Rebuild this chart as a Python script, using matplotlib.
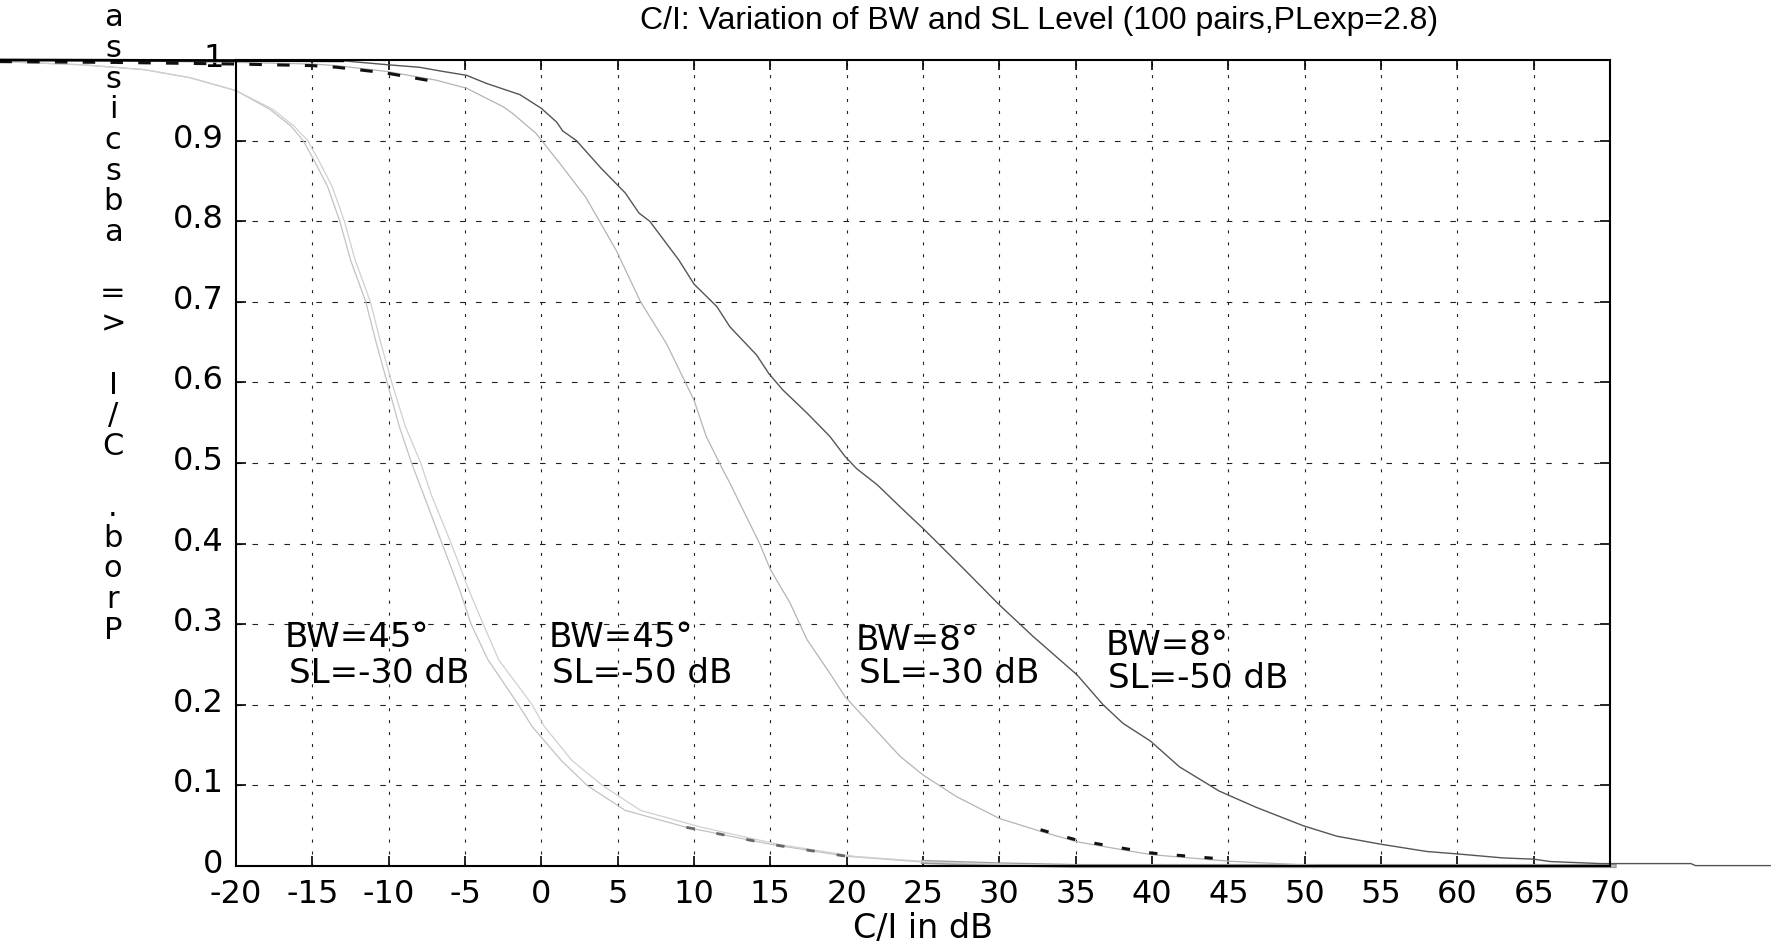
import matplotlib
matplotlib.use('Agg')
import matplotlib.pyplot as plt
import matplotlib.transforms as mtransforms
import numpy as np

# BW=45 deg pair (two almost identical curves)
x_a = [-35.5, -30, -26, -23, -20, -17.8, -16.4, -15.6, -14.9, -14.0, -13.2, -12.5, -11.5,
       -10.8, -10.1, -9.3, -8.5, -7.7, -6.5, -5.3, -4.6, -3.5, -1.5, -0.6, 1.3, 3.0, 5.5,
       9.5, 15, 20, 25, 30, 35, 70.3]
x_b = [-35.5, -30, -26, -23, -20, -17.6, -16.2, -15.3, -14.6, -13.7, -12.9, -12.2, -11.2,
       -10.5, -9.8, -8.9, -7.9, -7.2, -5.9, -4.7, -3.8, -2.8, -0.6, 0.2, 2.0, 4.0, 6.5,
       10.5, 15.5, 20.5, 25.5, 31, 36, 70.3]
y_ab = [0.998, 0.994, 0.988, 0.978, 0.962, 0.939, 0.918, 0.90, 0.876, 0.843, 0.80, 0.752, 0.70,
        0.648, 0.60, 0.545, 0.50, 0.46, 0.40, 0.34, 0.30, 0.256, 0.20, 0.173, 0.131, 0.10, 0.069,
        0.048, 0.027, 0.012, 0.005, 0.002, 0.0, 0.0]

# middle light curve
x_m = [-35.5, -28, -20, -15, -13.4, -10.2, -6.9, -4.9, -2.5, -1.9, -0.35, 1.2, 2.9, 4.9, 6.5,
       8.2, 10.0, 10.8, 11.8, 12.35, 14.3, 15.0, 16.3, 17.4, 18.9, 19.9, 21.7, 23.5, 25.0, 27.2,
       30.0, 32.7, 35.1, 38.1, 40, 45, 51.5, 70.3]
y_m = [1.0, 0.999, 0.997, 0.995, 0.993, 0.986, 0.975, 0.965, 0.942, 0.934, 0.909, 0.872, 0.83,
       0.764, 0.70, 0.648, 0.578, 0.533, 0.495, 0.475, 0.40, 0.368, 0.326, 0.281, 0.239, 0.21,
       0.173, 0.136, 0.113, 0.086, 0.059, 0.043, 0.03, 0.02, 0.014, 0.006, 0.0, 0.0]

# dark curve
x_d = [-35.5, -13, -10, -8, -6.5, -4.9, -3.6, -1.4, 0, 1.0, 1.4, 2.3, 3.9, 5.5, 6.4, 7.1, 9.0,
       10.0, 11.5, 12.35, 14.1, 14.9, 15.8, 17.4, 18.9, 19.9, 20.65, 22.0, 23.7, 25.1, 27.6, 30.0,
       32.2, 35.1, 36.8, 38.1, 39.9, 41.8, 44.4, 46.8, 49.9, 52.1, 55.0, 58.0, 60.0, 63.0, 65.0,
       66.1, 69.4, 75.3, 75.6, 80.5]
y_d = [1.0, 0.999, 0.994, 0.991, 0.986, 0.981, 0.971, 0.957, 0.94, 0.923, 0.912, 0.90, 0.866,
       0.835, 0.81, 0.80, 0.752, 0.722, 0.694, 0.669, 0.634, 0.611, 0.591, 0.562, 0.533, 0.508,
       0.493, 0.473, 0.442, 0.417, 0.37, 0.324, 0.285, 0.237, 0.2, 0.177, 0.155, 0.123, 0.093,
       0.073, 0.050, 0.037, 0.027, 0.018, 0.015, 0.010, 0.0085, 0.0055, 0.003, 0.003, 0.0005, 0.0005]

xticks = list(range(-20, 71, 5))
yticks = [0, 0.1, 0.2, 0.3, 0.4, 0.5, 0.6, 0.7, 0.8, 0.9, 1]
ytick_labels = ['0', '0.1', '0.2', '0.3', '0.4', '0.5', '0.6', '0.7', '0.8', '0.9', '1']

bw_labels = ['BW=45°', 'BW=45°', 'BW=8°', 'BW=8°']
sl_labels = ['SL=-30 dB', 'SL=-50 dB', 'SL=-30 dB', 'SL=-50 dB']

ylabel_chars = ['a', 's', 's', 'i', 'c', 's', 'b', 'a', '', '=', '>', '', 'I', '/', 'C', '',
                '.', 'b', 'o', 'r', 'P']

plt.rcParams['lines.scale_dashes'] = False
plt.rcParams['axes.unicode_minus'] = False

fig = plt.figure(figsize=(17.75, 9.47), dpi=100)
ax = fig.add_axes([0.13296, 0.08553, 0.77408, 0.85111])
ax.set_xlim(-20, 70)
ax.set_ylim(0, 1)

# grid (matlab style dotted)
for xv in xticks[1:-1]:
    ax.plot([xv, xv], [0, 1], color='#222222', lw=0.8, dashes=(2.2, 6.4), zorder=1)
for yv in yticks[1:-1]:
    ax.plot([-20, 70], [yv, yv], color='#222222', lw=0.8, dashes=(4, 7.5), zorder=1)

ax.plot(x_a, y_ab, color='#c2c2c2', lw=0.9, clip_on=False, zorder=3)
ax.plot(x_b, y_ab, color='#d0d0d0', lw=0.9, clip_on=False, zorder=3)
ax.plot(x_m, y_m, color='#b4b4b4', lw=0.9, clip_on=False, zorder=3)
ax.plot(x_d, y_d, color='#555555', lw=1.0, clip_on=False, zorder=4)

# rendering artefacts on the nearly flat parts
xm = np.array(x_m)
ym = np.array(y_m)
top = ym > 0.97
ax.plot(xm[top], ym[top] - 0.002, color='#111111', lw=2.2, dashes=(9, 11), clip_on=False, zorder=5)
low = (ym < 0.045) & (ym > 0.0)
ax.plot(xm[low], ym[low] + 0.002, color='#111111', lw=2.2, dashes=(6, 14), clip_on=False, zorder=5)
xa = np.array(x_a)
ya = np.array(y_ab)
flat = ya <= 0.006
ax.plot(xa[flat], ya[flat], color='#999999', lw=3.0, clip_on=False, zorder=2)
tail = (ya < 0.05) & (ya > 0.006)
ax.plot(xa[tail], ya[tail], color='#666666', lw=2.0, dashes=(6, 16), clip_on=False, zorder=5)
xd = np.array(x_d)
yd = np.array(y_d)
flat_d = yd >= 0.999
ax.plot(xd[flat_d], yd[flat_d], color='black', lw=2.0, clip_on=False, zorder=5)

ax.set_xticks(xticks)
ax.set_yticks(yticks)
ax.set_yticklabels(ytick_labels)
ax.tick_params(direction='in', length=7, width=1.2, top=True, right=True,
               labelsize=23)
ax.tick_params(axis='x', pad=9)
ax.tick_params(axis='y', pad=9)
shift = mtransforms.ScaledTranslation(0, 5 / 100, fig.dpi_scale_trans)
for lab in ax.get_yticklabels():
    lab.set_transform(lab.get_transform() + shift)
for s in ax.spines.values():
    s.set_linewidth(1.5)
    s.set_zorder(6)

lx1 = [-16.8, 0.45, 20.6, 36.97]
lx2 = [-16.55, 0.69, 20.8, 37.1]
ly1 = [0.284, 0.284, 0.280, 0.274]
ly2 = [0.239, 0.239, 0.239, 0.233]
for i in range(4):
    ax.text(lx1[i], ly1[i], bw_labels[i], fontsize=24.5, ha='left', va='center', zorder=7)
    ax.text(lx2[i], ly2[i], sl_labels[i], fontsize=24.5, ha='left', va='center', zorder=7)

fig.text(0.5854, 0.978, 'C/I: Variation of BW and SL Level (100 pairs,PLexp=2.8)',
         family='Liberation Sans', fontsize=23, ha='center', va='center')
fig.text(0.52, 0.02, 'C/I in dB', fontsize=24, ha='center', va='center')

for i, ch in enumerate(ylabel_chars):
    if ch:
        fig.text(113 / 1775, 1 - (18 + i * 30.6) / 947, ch, fontsize=22,
                 ha='center', va='center')

fig.savefig('out.png', dpi=100)
